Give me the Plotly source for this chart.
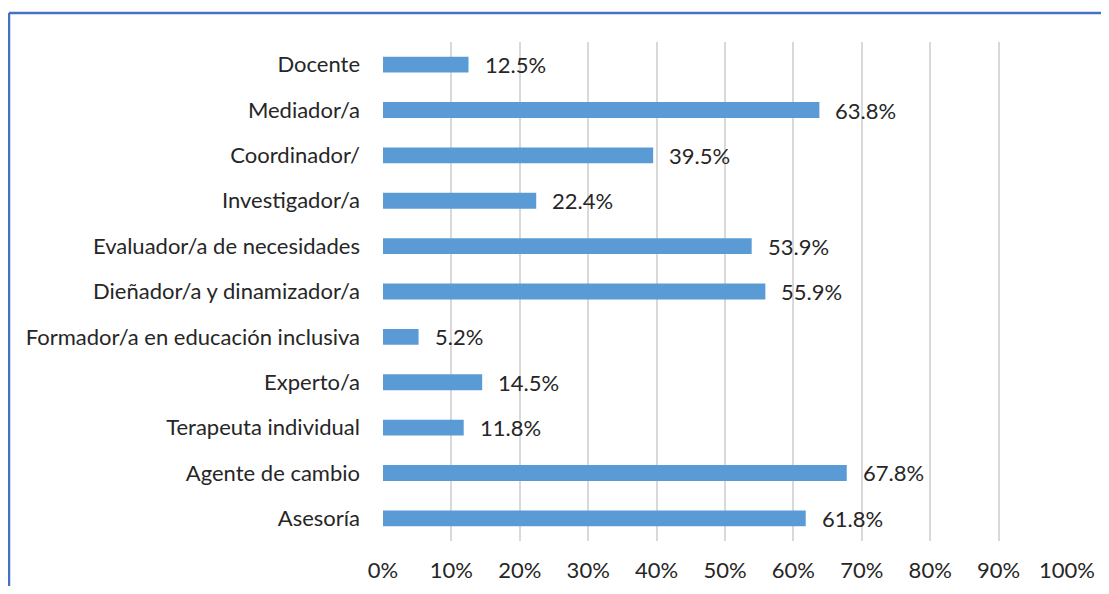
import plotly.graph_objects as go

categories = ["Docente", "Mediador/a", "Coordinador/", "Investigador/a",
              "Evaluador/a de necesidades", "Dieñador/a y dinamizador/a",
              "Formador/a en educación inclusiva", "Experto/a",
              "Terapeuta individual", "Agente de cambio", "Asesoría"]
values = [0.125, 0.638, 0.395, 0.224, 0.539, 0.559, 0.052, 0.145, 0.118, 0.678, 0.618]
tick_vals = [i / 10 for i in range(11)]
tick_text = [f"{i*10}%" for i in range(11)]

FONT = "Lato"
FS = 22
TXT = "#262626"

# page has an 8px body margin; figure coordinates = page - 8
W, H = 1093, 578
L, R, T, B = 375, W - 1059, 34, H - 533

fig = go.Figure(go.Bar(
    x=values, y=categories, orientation="h",
    marker=dict(color="#5B9BD5", line=dict(width=0)),
    width=0.35,
))

for c, v in zip(categories, values):
    fig.add_annotation(x=v, y=c, text=f"{v*100:.1f}%", showarrow=False,
                       xanchor="left", xshift=14,
                       font=dict(family=FONT, size=FS, color=TXT))

fig.update_layout(
    width=W, height=H,
    margin=dict(l=L, r=R, t=T, b=B),
    paper_bgcolor="white", plot_bgcolor="white",
    showlegend=False,
    xaxis=dict(range=[0, 1], tickvals=tick_vals, ticktext=tick_text,
               showgrid=True, gridcolor="#D9D9D9", gridwidth=1.5,
               zeroline=False, showline=False, ticks="",
               ticklabelstandoff=14, automargin=False,
               tickfont=dict(family=FONT, size=FS, color=TXT)),
    yaxis=dict(autorange="reversed", showgrid=False, zeroline=False,
               showline=False, ticks="", ticklabelstandoff=22,
               automargin=False,
               tickfont=dict(family=FONT, size=FS, color=TXT)),
)

pw, ph = W - L - R, H - T - B
def px(x):
    return (x - L) / pw
def py(y):
    return (H - B - y) / ph
fig.add_shape(type="line", xref="paper", yref="paper",
              x0=px(1), x1=px(1), y0=py(5), y1=py(H + 10),
              line=dict(color="#4472C4", width=2.5))
fig.add_shape(type="line", xref="paper", yref="paper",
              x0=px(1), x1=px(W + 10), y0=py(5), y1=py(5),
              line=dict(color="#4472C4", width=2.5))

fig.write_html("out.html")
